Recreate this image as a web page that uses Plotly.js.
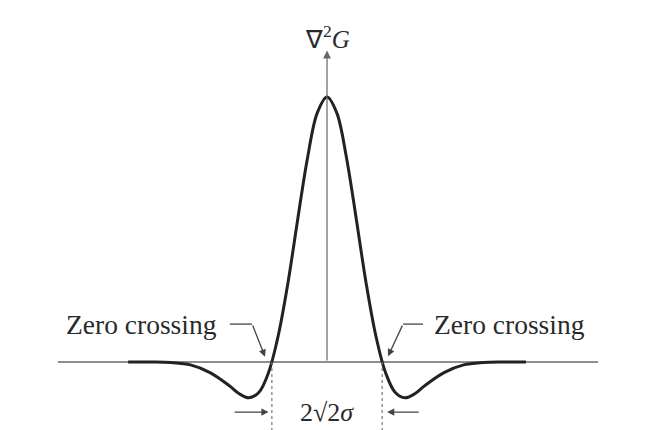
<!DOCTYPE html>
<html>
<head>
<meta charset="utf-8">
<script src="https://cdn.plot.ly/plotly-3.0.1.min.js"></script>
<style>html,body{margin:0;padding:0;background:#fff;}</style>
</head>
<body>
<div id="chart" style="width:660px;height:430px;"></div>
<script>
// Curve of -∇²G (in units of sigma)
const xs = [-5.1, -4.5, -4, -3.5, -3, -2.5, -2.25, -2, -1.75, -1.5, -1.25, -1, -0.75, -0.5, -0.25, 0,
            0.25, 0.5, 0.75, 1, 1.25, 1.5, 1.75, 2, 2.25, 2.5, 3, 3.5, 4, 4.5, 5.1];
const ys = [0, 0, -0.002, -0.011, -0.04, -0.09, -0.12, -0.135, -0.115, -0.04, 0.10, 0.30, 0.54, 0.77, 0.94, 1,
            0.94, 0.77, 0.54, 0.30, 0.10, -0.04, -0.115, -0.135, -0.12, -0.09, -0.04, -0.011, -0.002, 0, 0];
const zeroCrossings = [-1.414, 1.414];
const yLabel = "∇<sup>2</sup><i>G</i>";
const zcLabel = "Zero crossing";
const widthLabel = "2√2<i>σ</i>";

const serif = "Liberation Serif, Times New Roman, serif";
const axisGray = "#6a6a6a";
const textColor = "#2a2a2a";

const trace = {
  x: xs, y: ys, type: "scatter", mode: "lines",
  line: {color: "#222", width: 3, shape: "spline", smoothing: 1},
  hoverinfo: "skip"
};

const shapes = [
  // horizontal axis
  {type: "line", xref: "x", yref: "y", x0: -6.9, x1: 6.95, y0: 0, y1: 0,
   line: {color: axisGray, width: 1.6}, layer: "below"},
  // dashed lines at zero crossings
  {type: "line", xref: "x", yref: "y", x0: zeroCrossings[0], x1: zeroCrossings[0], y0: 0, y1: -0.26,
   line: {color: "#777", width: 1.2, dash: "dot"}},
  {type: "line", xref: "x", yref: "y", x0: zeroCrossings[1], x1: zeroCrossings[1], y0: 0, y1: -0.26,
   line: {color: "#777", width: 1.2, dash: "dot"}},
  // leader horizontal parts
  {type: "line", xref: "x", yref: "y", x0: -2.49, x1: -1.92, y0: 0.143, y1: 0.143,
   line: {color: "#444", width: 1.3}},
  {type: "line", xref: "x", yref: "y", x0: 1.95, x1: 2.46, y0: 0.143, y1: 0.143,
   line: {color: "#444", width: 1.3}}
];

const arrowBase = {text: "", showarrow: true, axref: "x", ayref: "y", xref: "x", yref: "y",
  arrowcolor: "#444", arrowhead: 2, arrowsize: 1.1, arrowwidth: 1.3, standoff: 0, startstandoff: 0};

const annotations = [
  // vertical axis with arrow
  Object.assign({}, arrowBase, {x: 0, y: 1.175, ax: 0, ay: 0, arrowcolor: "#666", arrowwidth: 1.2, arrowsize: 1.3}),
  // leader arrows to zero crossings
  Object.assign({}, arrowBase, {x: -1.59, y: 0.02, ax: -1.92, ay: 0.143}),
  Object.assign({}, arrowBase, {x: 1.565, y: 0.022, ax: 1.95, ay: 0.143}),
  // width arrows
  Object.assign({}, arrowBase, {x: -1.5, y: -0.189, ax: -2.41, ay: -0.189}),
  Object.assign({}, arrowBase, {x: 1.54, y: -0.189, ax: 2.39, ay: -0.189}),
  // labels
  {x: 0.02, y: 1.225, xref: "x", yref: "y", text: yLabel, showarrow: false,
   font: {family: serif, size: 25, color: textColor}},
  {x: -4.75, y: 0.14, xref: "x", yref: "y", text: zcLabel, showarrow: false,
   font: {family: serif, size: 27.5, color: textColor}},
  {x: 4.68, y: 0.14, xref: "x", yref: "y", text: zcLabel, showarrow: false,
   font: {family: serif, size: 27.5, color: textColor}},
  {x: 0, y: -0.19, xref: "x", yref: "y", text: widthLabel, showarrow: false,
   font: {family: serif, size: 26, color: textColor}}
];

const layout = {
  width: 660, height: 430,
  margin: {l: 0, r: 0, t: 0, b: 0},
  paper_bgcolor: "#fff", plot_bgcolor: "#fff",
  showlegend: false,
  xaxis: {range: [-8.385, 8.538], visible: false, fixedrange: true},
  yaxis: {range: [-0.2566, 1.366], visible: false, fixedrange: true},
  shapes: shapes,
  annotations: annotations
};

Plotly.newPlot("chart", [trace], layout, {displayModeBar: false, staticPlot: true});
</script>
</body>
</html>
